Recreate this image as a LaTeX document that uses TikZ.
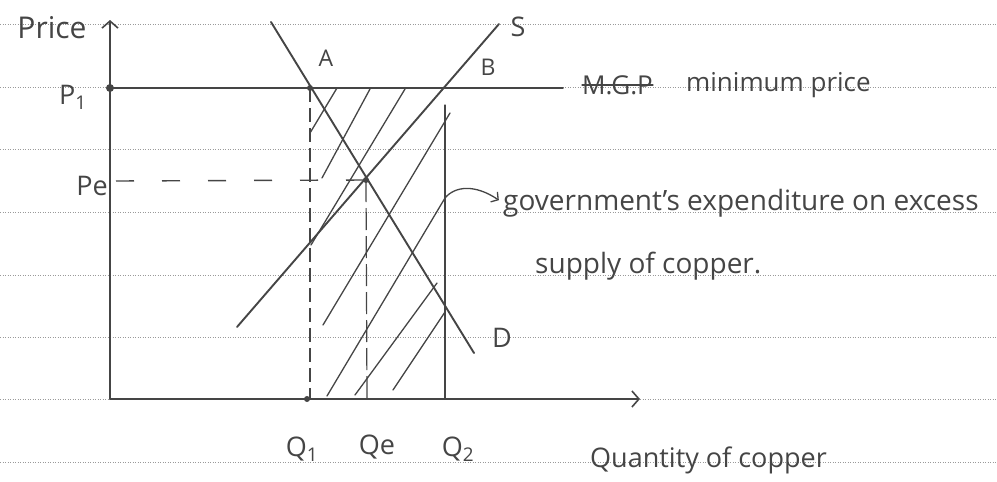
\documentclass[tikz,border=0pt]{standalone}
\usepackage{fontspec}
\setmainfont{Open Sans}
\usetikzlibrary{arrows.meta}
\definecolor{inkc}{HTML}{454545}
\definecolor{rulec}{HTML}{9A9A9A}
\tikzset{
  rule/.style={draw=rulec, line width=0.9pt, dash pattern=on 0.9pt off 1.6pt},
  ink/.style={draw=inkc, line width=1.9pt, line cap=round},
  hatch/.style={draw=inkc, line width=1.3pt, line cap=round},
  qdash/.style={draw=inkc, line width=1.8pt, dash pattern=on 14pt off 6pt},
  thindash/.style={draw=inkc, line width=1.2pt, dash pattern=on 22pt off 6pt},
  pedash/.style={draw=inkc, line width=1.4pt, dash pattern=on 18pt off 28pt},
  lbl/.style={text=inkc, font=\fontsize{27}{31}\selectfont, inner sep=0pt},
  txt/.style={text=inkc, font=\fontsize{26}{30}\selectfont, inner sep=0pt, anchor=west},
  bigtxt/.style={txt, font=\fontsize{28}{32}\selectfont},
  barb/.style={-{Straight Barb[length=7pt,width=16pt,line width=1.6pt]}},
  pt/.style={circle, fill=inkc, inner sep=0pt, minimum size=7pt}
}
\begin{document}
\begin{tikzpicture}[x=1pt,y=-1pt]
\useasboundingbox (0,0) rectangle (997,482);
% ruled paper
\foreach \yy in {24,87,149,212,275,337,399,462}
  \draw[rule] (0,\yy) -- (997,\yy);
% coordinates
\coordinate (O) at (110,399);
\coordinate (Ytop) at (110,20);
\coordinate (Xend) at (640,399);
\coordinate (P1pt) at (110,88);
\coordinate (Pend) at (563,88);
\coordinate (Dtop) at (271,22);
\coordinate (Dbot) at (474,353);
\coordinate (Stop) at (499,24);
\coordinate (Sbot) at (237,327);
\coordinate (Apt) at (310,88);
\coordinate (Bpt) at (445,88);
\coordinate (Ept) at (366,180);
\coordinate (Q1b) at (310,399);
\coordinate (Qeb) at (367,399);
\coordinate (Q2t) at (445,105);
\coordinate (Q2b) at (445,399);
\coordinate (Pep) at (116,181);
% hatch lines
\draw[hatch] (337,88) -- (310,133);
\draw[hatch] (370,89) -- (322,178);
\draw[hatch] (405,89) -- (311,245);
\draw[hatch] (450,113) -- (323,325);
\coordinate (H5t) at (445,198);
\draw[hatch] (H5t) -- (327,396);
\draw[hatch] (437,283) -- (355,395);
\draw[hatch] (445,312) -- (393,390);
% verticals
\draw[qdash] (Apt) -- (Q1b);
\draw[thindash] (Ept) -- (Qeb);
\draw[hatch, line width=1.1pt] (Q2t) -- (Q2b);
\draw[pedash] (Pep) -- (Ept);
% axes
\draw[ink, barb] (O) -- (Ytop);
\draw[ink, barb] (O) -- (Xend);
% minimum price line
\draw[ink] (P1pt) -- (Pend);
% demand and supply
\draw[ink] (Dtop) -- (Dbot);
\draw[ink] (Sbot) -- (Stop);
% points
\node[pt, minimum size=8pt] (P1dot) at (P1pt) {};
\node[pt, minimum size=6pt] (Adot) at (Apt) {};
\node[pt, minimum size=6pt] (Edot) at (Ept) {};
\node[pt, minimum size=6pt] (Q1dot) at (307,399) {};
% labels
\node[lbl, font=\fontsize{30}{34}\selectfont] (price) at (52,28) {Price};
\node[lbl] (P1) at (73,97) {P\textsubscript{1}};
\node[lbl] (Pe) at (92,186) {Pe};
\node[lbl, font=\fontsize{23}{27}\selectfont] (A) at (326,58) {A};
\node[lbl, font=\fontsize{23}{27}\selectfont] (B) at (488,67) {B};
\node[lbl] (S) at (518,27) {S};
\node[lbl] (D) at (502,338) {D};
\node[lbl] (Q1) at (302,449) {Q\textsubscript{1}};
\node[lbl] (Qe) at (377,447) {Qe};
\node[lbl] (Q2) at (458,449) {Q\textsubscript{2}};
\node[txt] (mgp) at (582,85) {M.G.P};
\draw[hatch] (mgp.west) -- (mgp.east);
\node[txt] (minp) at (686,85) {minimum price};
\node[bigtxt] (gov) at (503,203) {government's expenditure on excess};
\node[bigtxt] (sup) at (535,266) {supply of copper.};
\node[txt, font=\fontsize{27}{31}\selectfont] (qty) at (590,460) {Quantity of copper};
% annotation arrow
\draw[hatch, -{Straight Barb[length=5pt,width=12pt,line width=1.3pt]}, shorten >=5pt] (H5t) .. controls (455,186) and (475,184) .. (gov.west);
\end{tikzpicture}
\end{document}
